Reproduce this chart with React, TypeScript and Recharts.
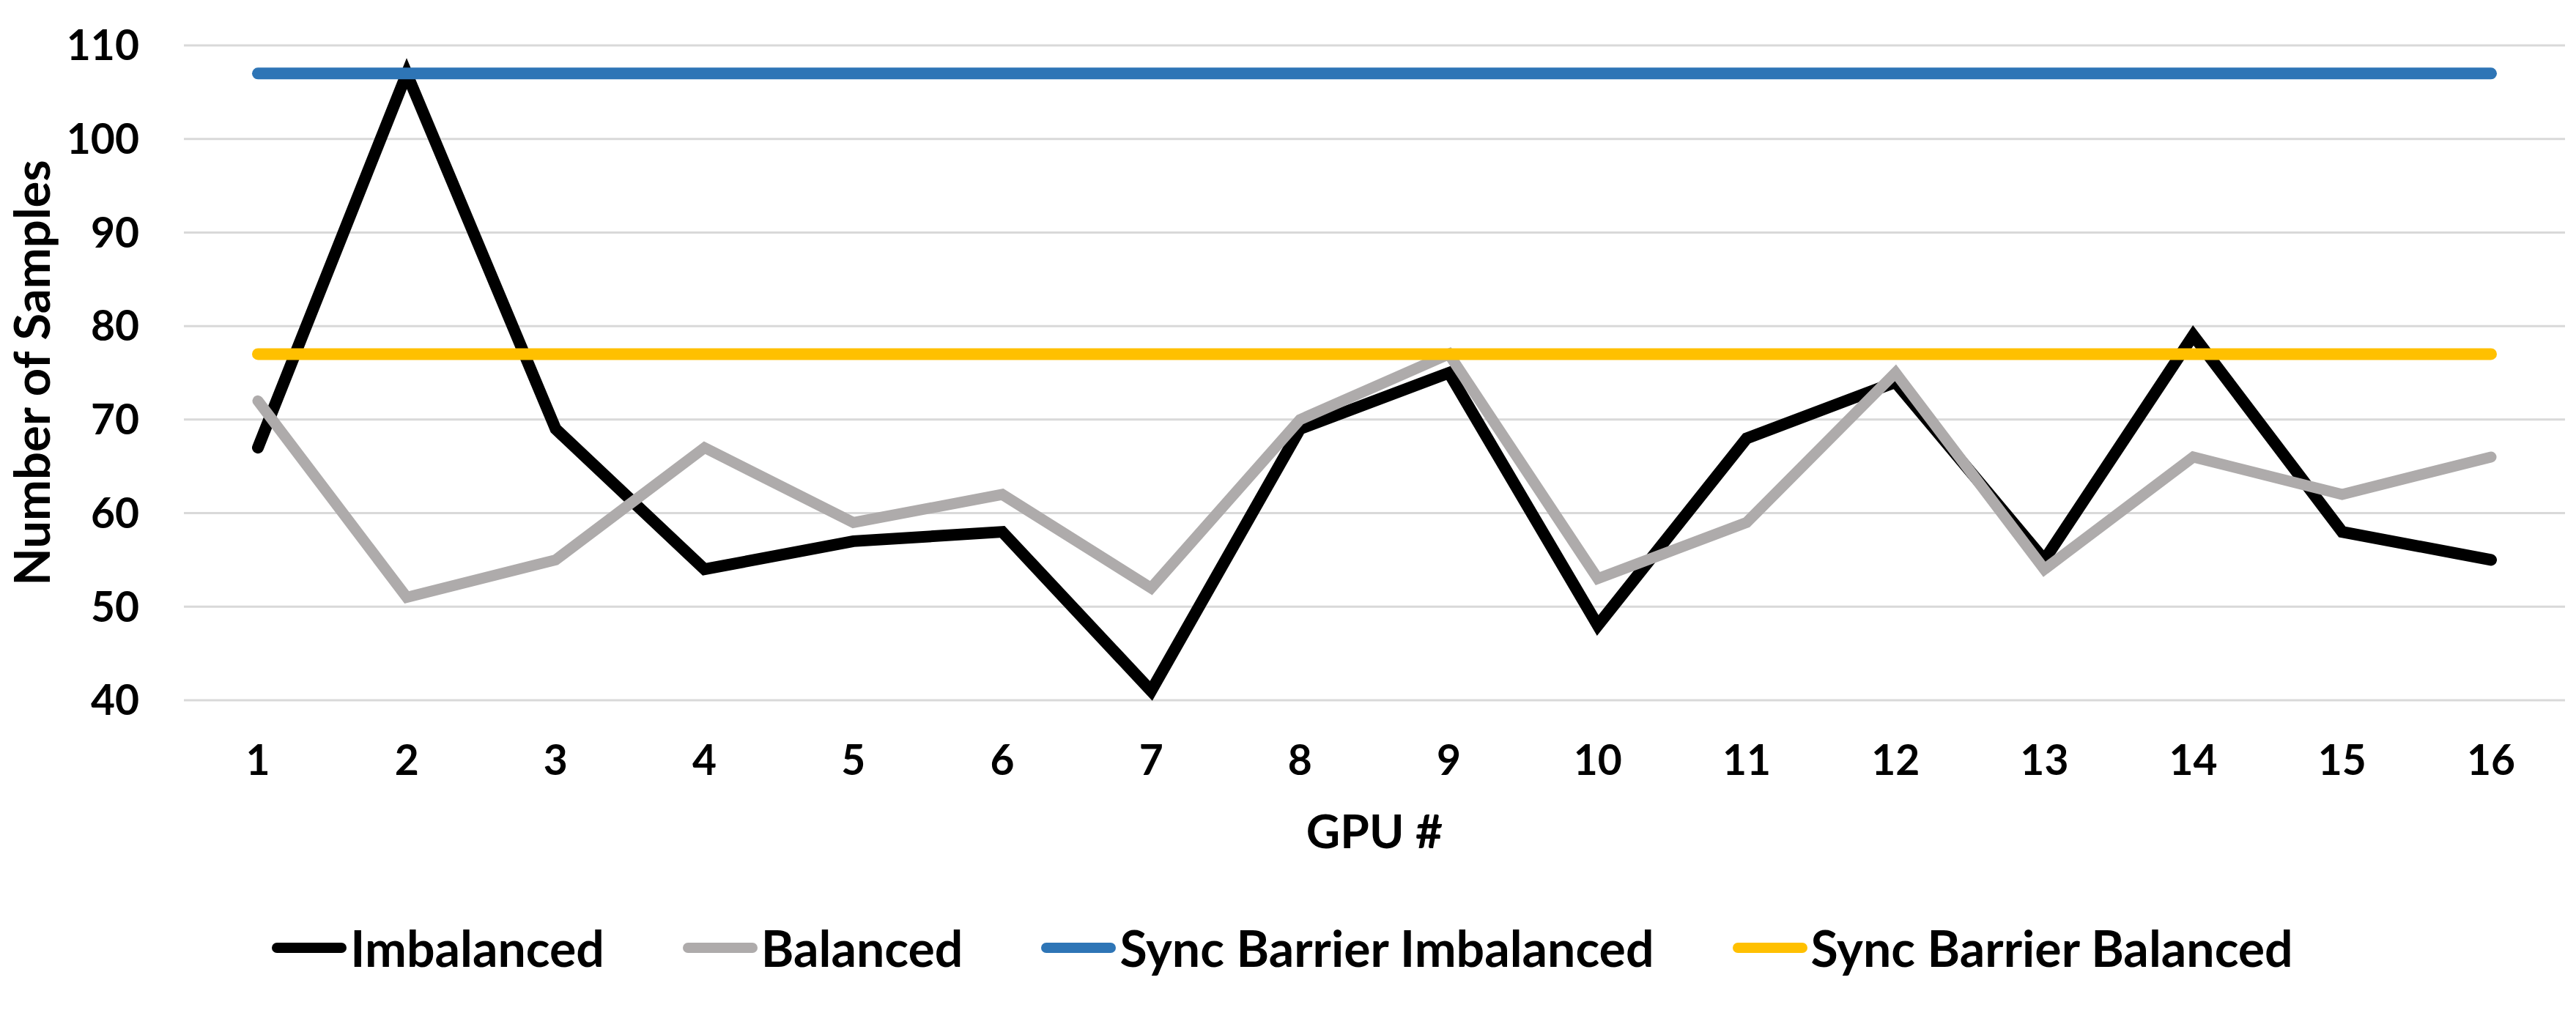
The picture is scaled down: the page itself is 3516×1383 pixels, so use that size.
import React from 'react';
import { LineChart, Line, XAxis, YAxis, CartesianGrid, Legend } from 'recharts';

const gpus = ['1', '2', '3', '4', '5', '6', '7', '8', '9', '10', '11', '12', '13', '14', '15', '16'];
const imbalanced = [67, 107, 69, 54, 57, 58, 41, 69, 75, 48, 68, 74, 55, 79, 58, 55];
const balanced = [72, 51, 55, 67, 59, 62, 52, 70, 77, 53, 59, 75, 54, 66, 62, 66];
const syncImbalanced = [107, 107, 107, 107, 107, 107, 107, 107, 107, 107, 107, 107, 107, 107, 107, 107];
const syncBalanced = [77, 77, 77, 77, 77, 77, 77, 77, 77, 77, 77, 77, 77, 77, 77, 77];
const yTicks = [40, 50, 60, 70, 80, 90, 100, 110];

const series = [
  { key: 'imbalanced', name: 'Imbalanced', color: '#000000', width: 16 },
  { key: 'balanced', name: 'Balanced', color: '#AEABAB', width: 15 },
  { key: 'syncImbalanced', name: 'Sync Barrier Imbalanced', color: '#2E75B6', width: 16 },
  { key: 'syncBalanced', name: 'Sync Barrier Balanced', color: '#FFC000', width: 16 },
];

const data = gpus.map((gpu, i) => ({
  gpu,
  imbalanced: imbalanced[i],
  balanced: balanced[i],
  syncImbalanced: syncImbalanced[i],
  syncBalanced: syncBalanced[i],
}));

const FONT = 'Lato, "Open Sans", sans-serif';

const renderLegend = () => (
  <div
    style={{
      height: 130,
      display: 'flex',
      alignItems: 'center',
      justifyContent: 'center',
      gap: 107,
      fontFamily: FONT,
      fontWeight: 700,
      fontSize: 68,
      lineHeight: 1,
      color: '#000',
    }}
  >
    {series.map((s) => (
      <div key={s.key} style={{ display: 'flex', alignItems: 'center' }}>
        <svg width={102} height={16} style={{ marginRight: 5 }}>
          <line x1={7} y1={8} x2={95} y2={8} stroke={s.color} strokeWidth={14} strokeLinecap="round" />
        </svg>
        <span>{s.name}</span>
      </div>
    ))}
  </div>
);

export default function App() {
  return (
    <div style={{ position: 'absolute', left: 0, top: 0, width: 3516, height: 1383, background: '#fff' }}>
      <LineChart
        width={3516}
        height={1383}
        data={data}
        margin={{ top: 62, right: 15, left: 0, bottom: 24 }}
      >
        <CartesianGrid vertical={false} stroke="#D9D9D9" strokeWidth={3} />
        <XAxis
          dataKey="gpu"
          height={273}
          padding={{ left: 101, right: 101 }}
          axisLine={false}
          tickLine={false}
          tickSize={0}
          tickMargin={62}
          interval={0}
          tick={{ fill: '#000', fontSize: 57, fontWeight: 700, fontFamily: FONT }}
          label={{
            value: 'GPU #',
            position: 'insideTop',
            offset: 157,
            style: { fill: '#000', fontSize: 64, fontWeight: 700, fontFamily: FONT },
          }}
        />
        <YAxis
          width={251}
          domain={[40, 110]}
          ticks={yTicks}
          interval={0}
          axisLine={false}
          tickLine={false}
          tickSize={0}
          tickMargin={61}
          tick={{ fill: '#000', fontSize: 57, fontWeight: 700, fontFamily: FONT }}
          label={{
            value: 'Number of Samples',
            angle: -90,
            position: 'insideLeft',
            offset: 44,
            style: { textAnchor: 'middle', fill: '#000', fontSize: 67, fontWeight: 700, fontFamily: FONT },
          }}
        />
        <Legend verticalAlign="bottom" content={renderLegend} />
        {series.map((s) => (
          <Line
            key={s.key}
            type="linear"
            dataKey={s.key}
            name={s.name}
            stroke={s.color}
            strokeWidth={s.width}
            strokeLinecap="round"
            dot={false}
            activeDot={false}
            isAnimationActive={false}
          />
        ))}
      </LineChart>
    </div>
  );
}
